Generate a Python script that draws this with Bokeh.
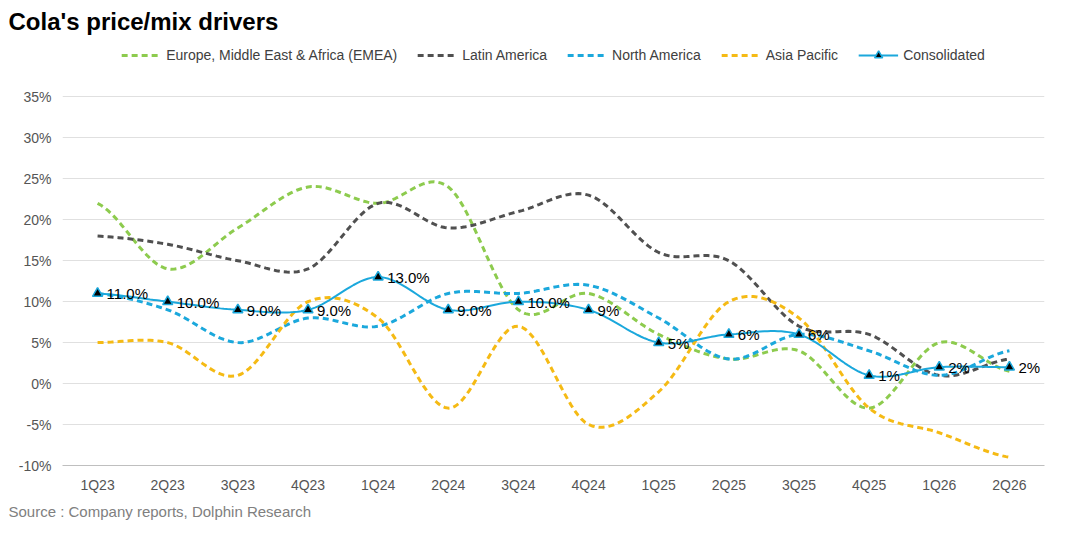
import numpy as np
from bokeh.plotting import figure
from bokeh.models import FixedTicker, Legend, Title, LabelSet, ColumnDataSource
from bokeh.core.properties import value
from bokeh.embed import file_html
from bokeh.resources import INLINE

quarters = ["1Q23","2Q23","3Q23","4Q23","1Q24","2Q24","3Q24","4Q24","1Q25","2Q25","3Q25","4Q25","1Q26","2Q26"]
emea = [22,14,19,24,22,24,9,11,6,3,4,-3,5,1.5]
latam = [18,17,15,14,22,19,21,23,16,15,7,6,1,3]
namer = [11,9,5,8,7,11,11,12,8,3,6,4,1,4]
apac = [5,5,1,10,8,-3,7,-5,-1,10,8,-3,-6,-9]
cons = [11,10,9,9,13,9,10,9,5,6,6,1,2,2]
cons_labels = ["11.0%","10.0%","9.0%","9.0%","13.0%","9.0%","10.0%","9%","5%","6%","6%","1%","2%","2%"]

def smooth(y, n=20):
    # Catmull-Rom rendering of the curve through the data points
    y = np.asarray(y, float); m = len(y)
    p = np.concatenate([[y[0]], y, [y[-1]]])
    xs, ys = [], []
    for i in range(m - 1):
        p0, p1, p2, p3 = p[i], p[i+1], p[i+2], p[i+3]
        t = np.linspace(0, 1, n, endpoint=False)
        ys.extend(0.5*((2*p1)+(-p0+p2)*t+(2*p0-5*p1+4*p2-p3)*t**2+(-p0+3*p1-3*p2+p3)*t**3))
        xs.extend(i + t)
    xs.append(m-1); ys.append(y[-1])
    return [float(v) for v in xs], [float(v) for v in ys]

p = figure(width=1064, height=524, output_backend="svg", toolbar_location=None,
           x_range=(-0.5, 13.5), y_range=(-10, 42),
           title="Cola's price/mix drivers")
p.title.text_font_size = "24px"
p.title.text_font_style = "bold"
p.title.text_font = "Liberation Sans"
p.title.text_color = "black"
p.title.offset = -54

x = list(range(len(quarters)))
series = [("Europe, Middle East & Africa (EMEA)", emea, "#8DCB4E"),
          ("Latin America", latam, "#505050"),
          ("North America", namer, "#1BA8DC"),
          ("Asia Pacific", apac, "#F5BA14")]
items = []
for name, ys, c in series:
    sx, sy = smooth(ys)
    r = p.line(sx, sy, line_color=c, line_width=3, line_dash="6 4")
    items.append((name, [r]))
sx, sy = smooth(cons)
r1 = p.line(sx, sy, line_color="#1BA8DC", line_width=2)
r2 = p.scatter(x, cons, marker="triangle", size=10, fill_color="black", line_color="#1BA8DC", line_width=1.5)
items.append(("Consolidated", [r1, r2]))

src = ColumnDataSource(dict(x=x, y=cons, t=cons_labels))
p.add_layout(LabelSet(x="x", y="y", text="t", source=src, x_offset=9, y_offset=-9,
                      text_font_size="15px", text_color="black", text_font=value("Liberation Sans")))

leg = Legend(items=items, orientation="horizontal", location="top_center", border_line_alpha=0,
             background_fill_alpha=0,
             label_text_font_size="14px", label_text_color="#404040", label_text_font="Liberation Sans",
             glyph_width=40, spacing=20, margin=4, padding=2)
p.add_layout(leg)

src_title = Title(text="Source : Company reports, Dolphin Research", text_font_size="15px",
                  text_font_style="normal", text_color="#808080", text_font="Liberation Sans",
                  align="left", offset=-54)
p.add_layout(src_title, "below")

p.xaxis.ticker = FixedTicker(ticks=x)
p.xaxis.major_label_overrides = {i: q for i, q in enumerate(quarters)}
p.yaxis.ticker = FixedTicker(ticks=list(range(-10, 36, 5)))
p.yaxis.major_label_overrides = {v: f"{v}%" for v in range(-10, 36, 5)}
for ax in (p.xaxis, p.yaxis):
    ax.major_label_text_font_size = "14px"
    ax.major_label_text_color = "#555555"
    ax.major_tick_line_color = None
    ax.minor_tick_line_color = None
    ax.major_label_text_font = "Liberation Sans"
p.xaxis.axis_line_color = "#BFBFBF"
p.yaxis.axis_line_color = None
p.xgrid.grid_line_color = None
p.ygrid.grid_line_color = "#E0E0E0"
p.outline_line_color = None
p.min_border_right = 20
p.min_border_left = 62
p.min_border_bottom = 40

open("out.html", "w").write(file_html(p, INLINE))
